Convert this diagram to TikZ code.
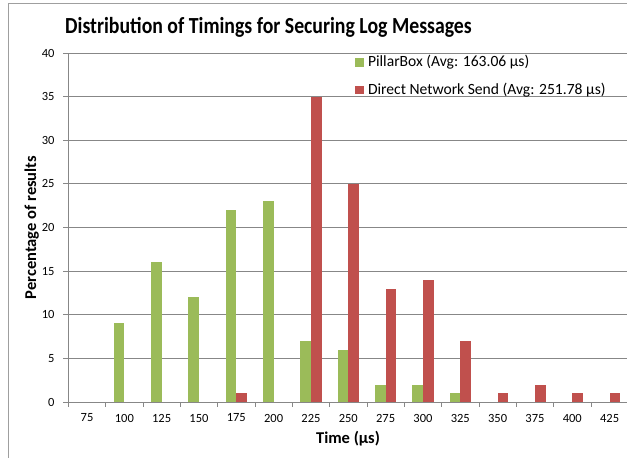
\documentclass[tikz,border=0pt]{standalone}
\usepackage{fontspec}
\setmainfont{Carlito}
\definecolor{pillar}{HTML}{9BBB59}
\definecolor{direct}{HTML}{C0504D}
\definecolor{gridgray}{HTML}{878787}

\begin{document}
\begin{tikzpicture}[x=1pt, y=-1pt,
    every node/.style={inner sep=0pt, outer sep=0pt},
    tick/.style={font=\fontsize{12.5}{14}\selectfont},
    axistitle/.style={font=\bfseries\fontsize{16.5}{18}\selectfont, anchor=base},
    legendtext/.style={font=\fontsize{15.6}{18}\selectfont, anchor=base west}]
        \useasboundingbox (0,0) rectangle (627,458);
        % Chart frame
        \draw[gridgray!80, line width=1pt] (8,458) -- (8,3.3) -- (627,3.3);

        % Title
        \node[font=\bfseries\fontsize{23}{26}\selectfont, xscale=0.86, anchor=base] (title) at (268.5,33.3) {Distribution of Timings for Securing Log Messages};

        % Gridlines and y tick labels
        \foreach \v in {0,5,...,40} {
            \draw[gridgray, line width=0.8pt] (63.3,{402-8.725*\v}) -- (628,{402-8.725*\v});
            \node[tick, anchor=east] (y\v) at (54.5,{402-8.725*\v}) {\v};
        }

        % Bars (PillarBox / Direct Network Send)
        \foreach \g/\r [count=\k from 0] in {0/0, 9/0, 16/0, 12/0, 22/1, 23/0, 7/35, 6/25, 2/13, 2/14, 1/7, 0/1, 0/2, 0/1, 0/1} {
            \pgfmathsetmacro{\xl}{68.3+37.33*\k}
            \ifnum\g>0
                \fill[pillar] ({\xl+8},402) rectangle ({\xl+18.67},{402-8.725*\g});
            \fi
            \ifnum\r>0
                \fill[direct] ({\xl+18.67},402) rectangle ({\xl+29.33},{402-8.725*\r});
            \fi
        }

        % Axes
        \draw[gridgray, line width=0.8pt] (68.3,53) -- (68.3,402);
        \draw[gridgray, line width=0.8pt] (68.3,402) -- (628,402);
        \foreach \t [count=\k from 0] in {75,100,...,425} {
            \draw[gridgray, line width=0.8pt] ({68.3+37.33*\k},402) -- ({68.3+37.33*\k},406.5);
            \node[tick] (x\t) at ({87+37.33*\k},418) {\t};
        }

        % Axis titles
        \node[axistitle] (xtitle) at (348,443.3) {Time (µs)};
        \node[axistitle, rotate=90] (ytitle) at (36,227.5) {Percentage of results};

        % Legend
        \fill[pillar] (355,58.3) rectangle (364,66.7);
        \node[legendtext] (lgreen) at (368,66.8) {PillarBox (Avg: 163.06 µs)};
        \fill[direct] (355,85.8) rectangle (364,94.2);
        \node[legendtext] (lred) at (368,94.2) {Direct Network Send (Avg: 251.78 µs)};
\end{tikzpicture}
\end{document}
